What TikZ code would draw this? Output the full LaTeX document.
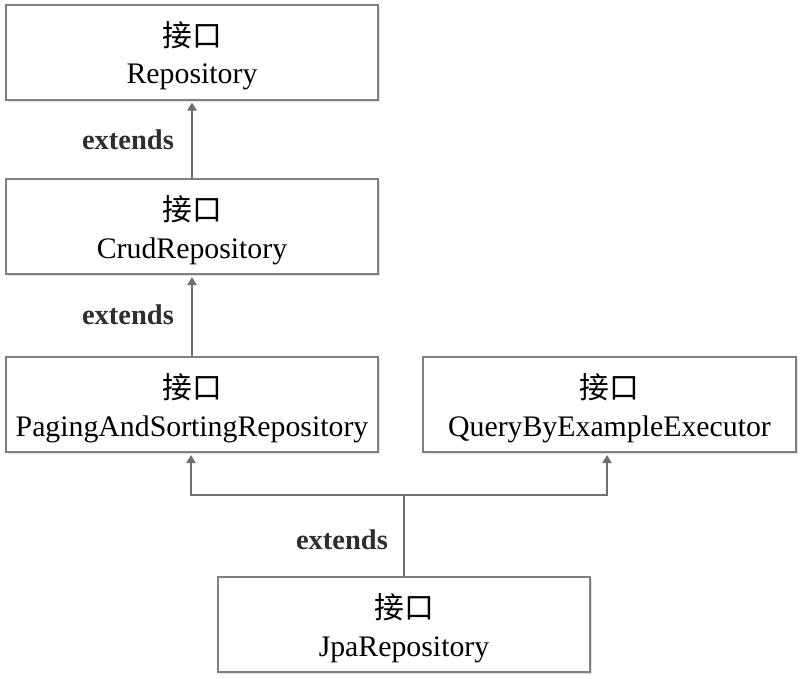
\documentclass[tikz,border=0pt]{standalone}
\usepackage{fontspec}
\setmainfont{Liberation Serif}
\newfontfamily\cjk{Noto Sans CJK SC}
\usetikzlibrary{arrows.meta,shadows}
\definecolor{bordergray}{HTML}{808080}
\definecolor{linegray}{HTML}{6E6E6E}
\definecolor{labelgray}{HTML}{2E2E2E}
\begin{document}
\begin{tikzpicture}[x=1pt,y=-1pt,
  iface/.style={draw=bordergray, line width=2pt, fill=white,
    minimum width=372pt, minimum height=95pt, inner sep=0pt,
    drop shadow={shadow xshift=2pt, shadow yshift=-2pt, fill=black!12, opacity=1},
    label={[inner sep=0pt, align=center, yshift=-3.5pt, font=\fontsize{29.8}{37.5}\selectfont]center:{\cjk 接口}\\#1}},
  conn/.style={draw=linegray, line width=2.5pt},
  arr/.style={conn, -{Triangle[width=9pt,length=8pt]}, shorten >=2pt},
  lbl/.style={text=labelgray, font=\fontsize{28.5}{30}\selectfont\bfseries, inner sep=0pt}
]
\useasboundingbox (0,0) rectangle (800,678);
\node[iface=Repository] (repo) at (192,52) {};
\node[iface=CrudRepository] (crud) at (192,226.5) {};
\node[iface=PagingAndSortingRepository] (paging) at (192,404.5) {};
\node[iface=QueryByExampleExecutor, minimum width=373pt] (qbe) at (609.5,404.5) {};
\node[iface=JpaRepository] (jpa) at (404,624.5) {};
\coordinate (fork) at (404,495);
\draw[arr] (crud.north) -- (repo.south);
\draw[arr] (paging.north) -- (crud.south);
\draw[conn] (jpa.north) -- (fork);
\draw[arr] (fork) -| ([xshift=-1pt]paging.south);
\draw[arr] (fork) -| ([xshift=-2.5pt]qbe.south);
\node[lbl] (l1) at (128,140) {extends};
\node[lbl] (l2) at (128,315) {extends};
\node[lbl] (l3) at (342,540) {extends};
\end{tikzpicture}
\end{document}
